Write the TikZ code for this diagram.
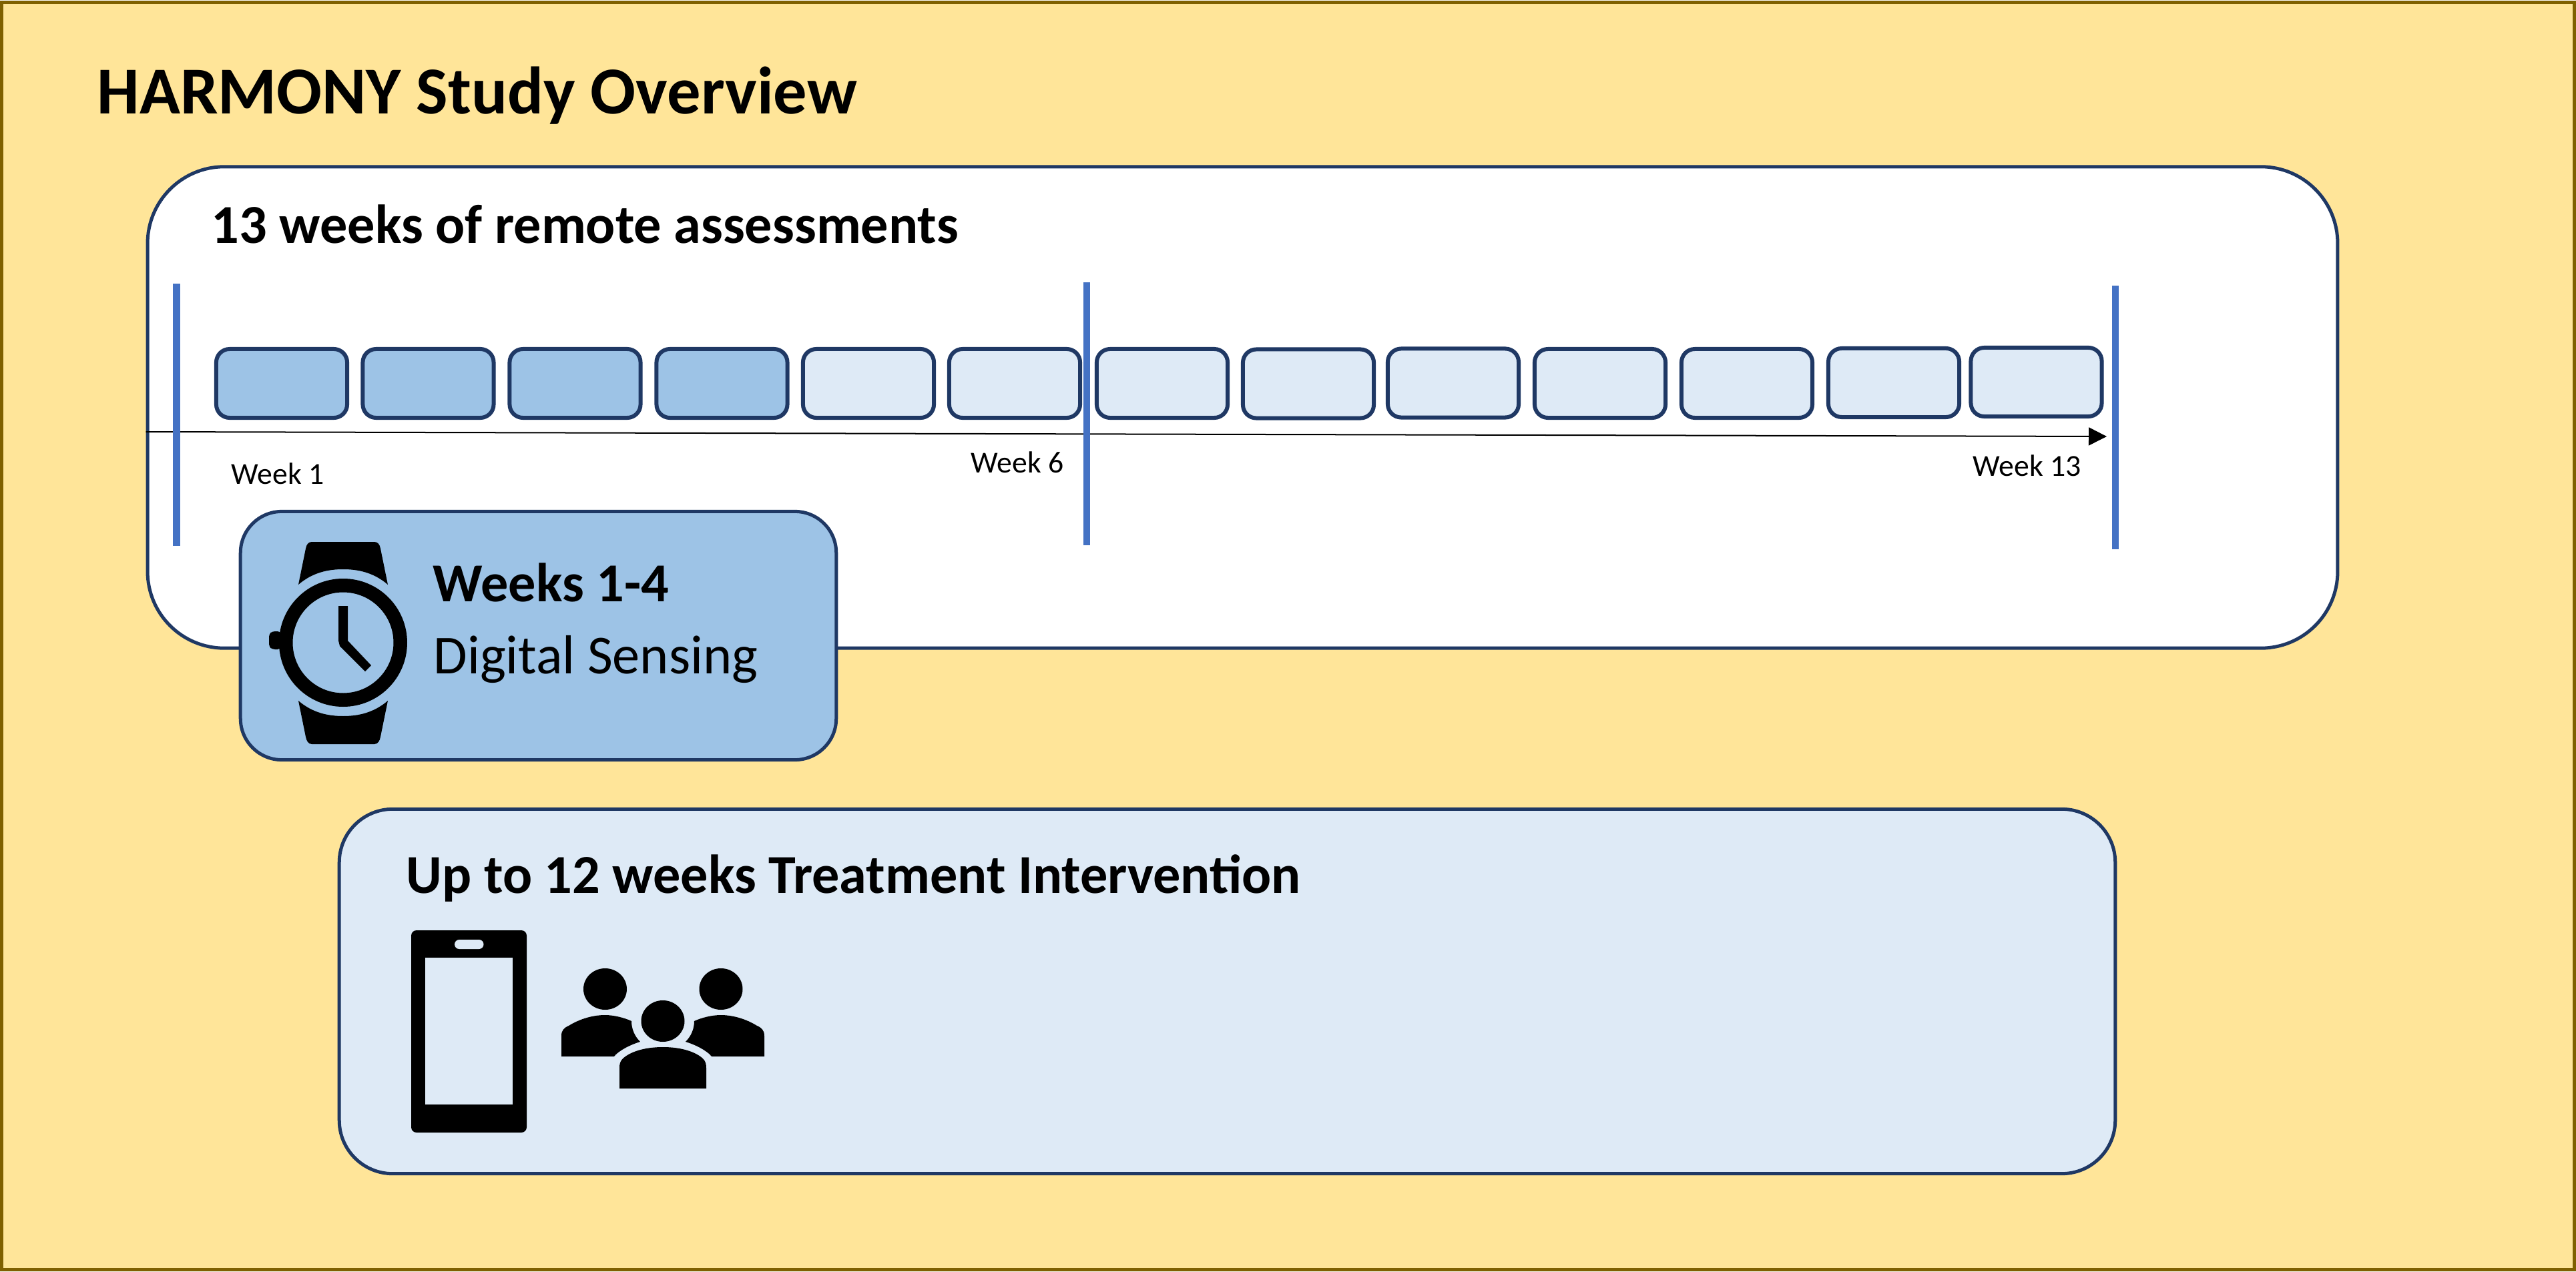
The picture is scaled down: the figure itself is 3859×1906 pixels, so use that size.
\documentclass[tikz,border=0pt]{standalone}
\usepackage{fontspec}
\usepackage[dvipsnames]{xcolor}
\usepackage{tikz}
\usetikzlibrary{arrows.meta}
\setmainfont{Carlito}
\definecolor{pagefill}{HTML}{FFE599}
\definecolor{pageline}{HTML}{7F6000}
\definecolor{navyline}{HTML}{1F3864}
\definecolor{midblue}{HTML}{9DC3E6}
\definecolor{paleblue}{HTML}{DEEAF6}
\definecolor{markblue}{HTML}{4472C4}

\begin{document}
\begin{tikzpicture}[x=0.01cm, y=-0.01cm]
    \tikzstyle{panel} = [rectangle, draw=navyline, line width=0.05cm, inner sep=0pt]
    \tikzstyle{weekbox} = [panel, line width=0.06cm, fill=paleblue, rounded corners=0.2cm, minimum width=1.96cm, minimum height=1.03cm]
    \tikzstyle{sensed} = [weekbox, fill=midblue]
    \tikzstyle{weekmark} = [draw=markblue, line width=0.1cm]
    \tikzstyle{heading} = [anchor=base west, inner sep=0pt, font=\fontsize{23.4}{28}\selectfont\bfseries]
    \tikzstyle{weeklabel} = [anchor=base west, inner sep=0pt, font=\fontsize{13}{15}\selectfont]
    \useasboundingbox (0,0) rectangle (3859,1906);
    \node[panel, draw=pageline, fill=pagefill, minimum width=38.52cm, minimum height=18.98cm] (page) at (1929.5,953) {};
    \node[heading, font=\fontsize{28.6}{32}\selectfont\bfseries] (title) at (145,171) {HARMONY Study Overview};

    \node[panel, fill=white, rounded corners=1.15cm, minimum width=32.79cm, minimum height=7.21cm] (remote) at (1861.5,610.5) {};
    \node[heading] (remotetitle) at (316,365) {13 weeks of remote assessments};

    \coordinate (axisstart) at (remote.west |- 0,647);
    \coordinate (axisend) at (3156,654);
    \draw[line width=0.02cm, -{Triangle[length=0.27cm, width=0.27cm]}] (axisstart) -- (axisend);
    \foreach \x/\t/\b [count=\i] in {264.5/425/818, 1628/423/817, 3169/428/823} {
        \coordinate (marktop\i) at (\x,\t);
        \coordinate (markbot\i) at (\x,\b);
        \draw[weekmark] (marktop\i) -- (markbot\i);
    }
    \foreach \x/\y [count=\i] in {422/574.5, 641.5/574.5, 861.5/574.5, 1081.5/574.5, 1301/574.5, 1520/574.5, 1741/574.5, 1960/575, 2177/574, 2397/574.5, 2617/574.5, 2837/573.5, 3050.5/572.5} {
        \ifnum\i<5 \node[sensed] (week\i) at (\x,\y) {}; \else \node[weekbox] (week\i) at (\x,\y) {}; \fi
    }
    \node[weeklabel] (labelone) at (346,725) {Week 1};
    \node[weeklabel] (labelsix) at (1454,708) {Week 6};
    \node[weeklabel] (labelthirteen) at (2955,713) {Week 13};

    \node[panel, fill=midblue, rounded corners=0.62cm, minimum width=8.92cm, minimum height=3.72cm] (sensing) at (806.5,952.5) {};
    \node[heading] (sensingtop) at (648,901) {Weeks 1-4};
    \node[heading, font=\fontsize{23.4}{27}\selectfont] (sensingsub) at (649,1009) {Digital Sensing};

    % watch
    \fill[black] (581,876) -- (570,822) .. controls (569,816) and (566,812) .. (561,812) -- (467,812) .. controls (462,812) and (459,816) .. (458,822) -- (447,876) .. controls (468,858) and (491,853) .. (514,853) .. controls (537,853) and (560,858) .. (581,876) -- cycle;
    \fill[black] (581,1050) -- (570,1104) .. controls (569,1110) and (566,1115) .. (561,1115) -- (467,1115) .. controls (462,1115) and (459,1110) .. (458,1104) -- (447,1050) .. controls (468,1068) and (491,1073) .. (514,1073) .. controls (537,1073) and (560,1068) .. (581,1050) -- cycle;
    \fill[black, even odd rule] (514,963) circle [radius=96] (514,963) circle [radius=75.5];
    \fill[black, rounded corners=0.04cm] (420,946) -- (408,946) -- (403,950) -- (403,969) -- (408,973) -- (420,973) -- cycle;
    \fill[black] (507,908) -- (521,908) -- (521,960) -- (556,997) -- (547,1006) -- (509,968) -- (507,960) -- cycle;

    \node[panel, fill=paleblue, rounded corners=0.8cm, minimum width=26.59cm, minimum height=5.46cm] (therapy) at (1838.5,1485.5) {};
    \node[heading] (therapytitle) at (608,1338) {Up to 12 weeks Treatment Intervention};

    % phone
    \fill[black, even odd rule, rounded corners=0.08cm] (616,1394) rectangle (789,1697);
    \fill[paleblue] (637,1435) rectangle (768,1655);
    \fill[paleblue, rounded corners=0.07cm] (681,1408) rectangle (724.5,1422);

    % people
    \foreach \x/\y in {906.5/1482, 1080/1482, 993/1530} {
        \fill[black] (\x,\y) ellipse [x radius=32.5, y radius=31];
    }
    \fill[black] (928,1631) -- (928,1600) .. controls (928,1590) and (932,1586) .. (940,1581) .. controls (955,1572) and (975,1569) .. (993,1569) .. controls (1011,1569) and (1031,1572) .. (1046,1581) .. controls (1054,1586) and (1058,1590) .. (1058,1600) -- (1058,1631) -- cycle;
    \foreach \d/\f in {0/1, 1986/-1} {
        \fill[black] ({\d+\f*841},1583) -- ({\d+\f*841},1552) .. controls ({\d+\f*841},1544) and ({\d+\f*845},1540) .. ({\d+\f*852},1537) .. controls ({\d+\f*868},1527) and ({\d+\f*888},1521) .. ({\d+\f*906},1521) .. controls ({\d+\f*920},1521) and ({\d+\f*935},1525) .. ({\d+\f*946},1530) .. controls ({\d+\f*946},1541) and ({\d+\f*950},1552) .. ({\d+\f*959},1561) .. controls ({\d+\f*942},1566) and ({\d+\f*925},1576) .. ({\d+\f*920},1583) -- cycle;
    }
\end{tikzpicture}
\end{document}
